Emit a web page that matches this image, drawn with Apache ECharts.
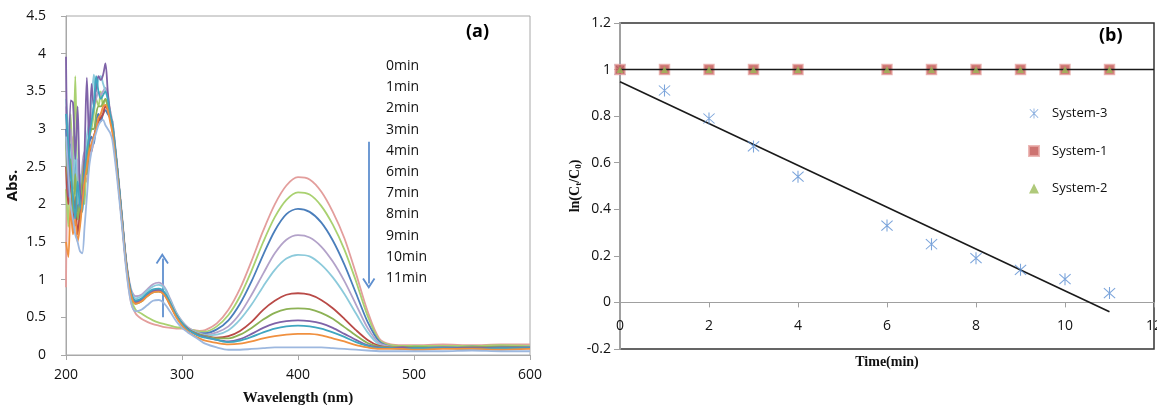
<!DOCTYPE html>
<html>
<head>
<meta charset="utf-8">
<script src="https://cdn.jsdelivr.net/npm/echarts@6/dist/echarts.min.js"></script>
<style>
  html, body { margin: 0; padding: 0; background: #fff; }
  #main { width: 1157px; height: 405px; }
</style>
</head>
<body>
<div id="main"></div>
<script>
// ---- panel (a): UV-vis spectra ----
var wavelengths = [200,202,204,206,208,210,212,214,216,218,220,222,224,226,228,230,232,234,236,238,
  240,244,248,252,256,260,265,270,275,280,285,290,295,300,305,310,315,320,330,340,350,360,370,380,390,
  400,410,420,430,440,450,460,470,480,490,500,525,550,575,600];

var abs0 = [0.9,2.6,2.2,2.9,2.3,2.0,1.8,2.1,2.4,2.3,2.6,2.8,2.9,3.0,3.1,3.2,3.25,3.3,3.35,3.25,
  3.0,2.45,1.8,1.15,0.7,0.55,0.48,0.44,0.41,0.39,0.37,0.36,0.35,0.35,0.34,0.33,0.32,0.33,0.42,0.6,0.88,1.25,1.65,2.0,2.25,
  2.36,2.33,2.17,1.9,1.55,1.08,0.58,0.22,0.14,0.13,0.13,0.14,0.13,0.14,0.14];
var abs1 = [2.2,1.7,3.2,2.5,3.7,2.1,1.7,2.4,2.0,2.8,2.9,3.0,3.2,3.4,3.3,3.5,3.3,3.4,3.3,3.2,
  3.05,2.5,1.85,1.2,0.75,0.6,0.55,0.5,0.46,0.43,0.41,0.39,0.37,0.36,0.34,0.33,0.31,0.31,0.38,0.53,0.78,1.12,1.5,1.83,2.06,
  2.16,2.13,1.98,1.73,1.4,0.98,0.52,0.2,0.13,0.12,0.12,0.12,0.12,0.13,0.12];
var abs2 = [3.0,2.4,2.8,2.2,2.7,1.9,2.3,2.0,2.6,2.4,2.8,2.9,2.8,3.1,3.2,3.1,3.2,3.25,3.2,3.15,
  3.1,2.5,1.85,1.2,0.82,0.72,0.74,0.79,0.84,0.85,0.8,0.66,0.52,0.42,0.35,0.31,0.29,0.29,0.34,0.46,0.68,0.98,1.33,1.65,1.87,
  1.94,1.9,1.76,1.52,1.2,0.82,0.44,0.18,0.11,0.1,0.1,0.1,0.11,0.1,0.1];
var abs3 = [3.3,2.7,3.0,2.4,2.2,2.6,1.9,2.5,2.7,2.6,3.0,3.2,3.3,3.4,3.5,3.45,3.5,3.55,3.45,3.25,
  3.1,2.55,1.9,1.25,0.88,0.78,0.8,0.87,0.94,0.96,0.9,0.74,0.57,0.45,0.37,0.32,0.29,0.27,0.3,0.38,0.55,0.8,1.08,1.35,1.53,
  1.59,1.56,1.44,1.24,0.98,0.67,0.36,0.16,0.11,0.1,0.1,0.1,0.1,0.11,0.1];
var abs4 = [3.4,3.0,2.6,2.2,2.9,2.0,2.4,2.2,2.5,2.9,3.1,3.3,3.72,3.5,3.65,3.7,3.6,3.5,3.4,3.2,
  3.05,2.5,1.85,1.22,0.85,0.75,0.78,0.85,0.91,0.93,0.88,0.72,0.56,0.44,0.36,0.31,0.28,0.26,0.27,0.33,0.47,0.67,0.91,1.13,1.28,
  1.33,1.31,1.2,1.03,0.81,0.55,0.3,0.14,0.1,0.1,0.11,0.1,0.1,0.1,0.11];
var abs6 = [2.5,2.0,2.3,1.7,2.1,1.6,1.9,2.2,2.4,2.5,2.8,2.7,2.9,3.0,3.1,3.15,3.2,3.3,3.25,3.15,
  3.0,2.45,1.82,1.2,0.82,0.7,0.73,0.8,0.86,0.87,0.82,0.68,0.53,0.42,0.35,0.3,0.27,0.25,0.23,0.25,0.32,0.44,0.6,0.72,0.8,
  0.82,0.8,0.73,0.62,0.48,0.33,0.2,0.12,0.1,0.1,0.1,0.09,0.1,0.1,0.09];
var abs7 = [2.9,2.2,2.6,1.9,2.4,1.8,2.0,2.3,2.6,2.4,2.9,3.0,3.0,3.2,3.3,3.3,3.35,3.4,3.3,3.2,
  3.05,2.5,1.85,1.2,0.8,0.68,0.71,0.78,0.83,0.84,0.8,0.66,0.52,0.41,0.34,0.3,0.27,0.25,0.22,0.22,0.27,0.36,0.47,0.56,0.61,
  0.62,0.61,0.56,0.48,0.37,0.26,0.16,0.11,0.1,0.1,0.11,0.1,0.1,0.11,0.1];
var abs8 = [3.96,2.1,3.38,3.35,2.6,3.3,2.2,2.0,2.7,3.68,2.8,3.6,3.3,3.55,3.7,3.65,3.72,3.87,3.5,3.2,
  3.05,2.5,1.86,1.22,0.82,0.7,0.73,0.8,0.85,0.86,0.82,0.67,0.52,0.41,0.34,0.29,0.26,0.24,0.2,0.18,0.21,0.28,0.36,0.42,0.45,
  0.46,0.45,0.42,0.36,0.28,0.2,0.13,0.1,0.09,0.1,0.09,0.1,0.09,0.1,0.1];
var abs9 = [3.2,2.8,2.4,2.1,1.8,2.3,2.0,1.9,2.4,2.7,2.9,3.1,3.3,3.7,3.5,3.4,3.45,3.5,3.4,3.2,
  3.05,2.5,1.86,1.22,0.84,0.72,0.75,0.82,0.87,0.88,0.83,0.68,0.53,0.42,0.34,0.29,0.25,0.23,0.2,0.17,0.19,0.24,0.3,0.35,0.38,
  0.39,0.38,0.35,0.3,0.24,0.17,0.12,0.09,0.09,0.08,0.09,0.09,0.08,0.09,0.09];
var abs10 = [1.5,1.3,2.0,1.6,1.8,1.5,1.7,2.0,2.3,2.5,2.7,2.8,2.9,3.0,3.15,3.2,3.3,3.32,3.25,3.1,
  2.95,2.42,1.8,1.18,0.8,0.68,0.71,0.78,0.83,0.84,0.79,0.65,0.5,0.39,0.31,0.26,0.22,0.19,0.16,0.14,0.15,0.18,0.22,0.25,0.27,
  0.28,0.28,0.26,0.22,0.18,0.13,0.1,0.08,0.08,0.08,0.07,0.08,0.08,0.07,0.08];
var abs11 = [2.9,2.4,2.0,1.8,1.6,1.5,1.38,1.35,1.7,2.1,2.5,2.7,2.85,2.95,3.05,3.1,3.12,3.05,3.0,2.95,
  2.85,2.35,1.75,1.12,0.7,0.58,0.6,0.66,0.72,0.73,0.68,0.57,0.45,0.36,0.3,0.25,0.2,0.15,0.1,0.07,0.07,0.08,0.09,0.1,0.1,
  0.1,0.1,0.1,0.09,0.08,0.07,0.06,0.05,0.05,0.05,0.05,0.05,0.06,0.05,0.05];

var timeLabels = ['0min','1min','2min','3min','4min','6min','7min','8min','9min','10min','11min'];
var spectra = [abs0, abs1, abs2, abs3, abs4, abs6, abs7, abs8, abs9, abs10, abs11];
var spectraColors = ['#E39E9C','#A9D170','#4A7EBB','#B3A2C9','#8CCADB','#B94A47','#8DB255','#7F63A8','#3FA6C0','#F0903F','#9DB8DF'];

// arrows (annotation, data units of panel a)
var arrowUpX = [283, 283], arrowUpY = [0.5, 1.28];
var arrowDownX = [461, 461], arrowDownY = [2.83, 0.95];

// ---- panel (b): kinetics ----
var timeMin = [0, 1, 2, 3, 4, 6, 7, 8, 9, 10, 11];
var system3 = [1.0, 0.91, 0.79, 0.67, 0.54, 0.33, 0.25, 0.19, 0.14, 0.10, 0.04];
var system1 = [1, 1, 1, 1, 1, 1, 1, 1, 1, 1, 1];
var system2 = [1, 1, 1, 1, 1, 1, 1, 1, 1, 1, 1];
var fit3X = [0, 11], fit3Y = [0.948, -0.04];
var fit1X = [0, 12], fit1Y = [1, 1];

function pairs(xs, ys) { return xs.map(function (x, i) { return [x, ys[i]]; }); }

var asterisk = 'path://M9.2 0 L10.8 0 L10.8 20 L9.2 20 Z M1.1 2.2 L2.2 1.1 L18.9 17.8 L17.8 18.9 Z M17.8 1.1 L18.9 2.2 L2.2 18.9 L1.1 17.8 Z';
var chevron = 'path://M0 9 L6 0 L12 9 L10.6 10 L6 3.2 L1.4 10 Z';

var chart = echarts.init(document.getElementById('main'));

var series = [];
spectra.forEach(function (arr, i) {
  series.push({
    name: timeLabels[i], type: 'line', xAxisIndex: 0, yAxisIndex: 0,
    data: pairs(wavelengths, arr), showSymbol: false, smooth: 0.3,
    lineStyle: { width: 1.8, color: spectraColors[i] }, itemStyle: { color: spectraColors[i] },
    z: 2 + i, silent: true
  });
});
[[arrowUpX, arrowUpY], [arrowDownX, arrowDownY]].forEach(function (a) {
  series.push({
    type: 'line', xAxisIndex: 0, yAxisIndex: 0, silent: true, z: 20,
    data: [], markLine: {
      silent: true, symbol: ['none', chevron], symbolSize: [13, 11],
      lineStyle: { color: '#5F8FCF', width: 1.8, type: 'solid' }, label: { show: false },
      data: [[{ coord: [a[0][0], a[1][0]] }, { coord: [a[0][1], a[1][1]] }]]
    }
  });
});

series.push({
  name: 'fit3', type: 'line', xAxisIndex: 1, yAxisIndex: 1, data: pairs(fit3X, fit3Y),
  showSymbol: false, lineStyle: { color: '#1a1a1a', width: 1.6 }, z: 3, silent: true
});
series.push({
  name: 'System-3', type: 'scatter', xAxisIndex: 1, yAxisIndex: 1, data: pairs(timeMin, system3),
  symbol: asterisk, symbolSize: 12, itemStyle: { color: '#5B8ED2' }, z: 4
});
series.push({
  name: 'System-1', type: 'scatter', xAxisIndex: 1, yAxisIndex: 1, data: pairs(timeMin, system1),
  symbol: 'rect', symbolSize: 10, itemStyle: { color: '#C0504D', borderColor: '#E7A7A5', borderWidth: 1.5 }, z: 5
});
series.push({
  name: 'fit1', type: 'line', xAxisIndex: 1, yAxisIndex: 1, data: pairs(fit1X, fit1Y),
  showSymbol: false, lineStyle: { color: '#1a1a1a', width: 1.6 }, z: 6, silent: true
});
series.push({
  name: 'System-2', type: 'scatter', xAxisIndex: 1, yAxisIndex: 1, data: pairs(timeMin, system2),
  symbol: 'triangle', symbolSize: 7, itemStyle: { color: '#9BBB59' }, z: 7
});

var labelFont = { fontFamily: 'Open Sans', fontSize: 14, color: '#111' };

var graphics = timeLabels.map(function (t, i) {
  return { type: 'text', left: 386, top: 59 + i * 21.2,
    style: { text: t, font: '14px "Open Sans"', fill: '#111' } };
});
graphics.push({ type: 'text', left: 466, top: 23, style: { text: '(a)', font: 'bold 18px "Open Sans"', fill: '#000' } });
graphics.push({ type: 'text', left: 1099, top: 27, style: { text: '(b)', font: 'bold 18px "Open Sans"', fill: '#000' } });

chart.setOption({
  animation: false,
  backgroundColor: '#fff',
  graphic: graphics,
  grid: [
    { left: 66, right: 627, top: 16, bottom: 50, show: true, borderColor: '#A8A8A8', borderWidth: 1,
      containLabel: false, outerBoundsMode: 'none' },
    { left: 620, right: 3, top: 23, bottom: 56, show: true, borderColor: '#333', borderWidth: 1.5,
      containLabel: false, outerBoundsMode: 'none' }
  ],
  legend: {
    data: ['System-3', 'System-1', 'System-2'], orient: 'vertical', left: 1023, top: 102,
    itemGap: 24.5, itemWidth: 10, itemHeight: 10, selectedMode: false,
    textStyle: { fontFamily: 'Open Sans', fontSize: 13, color: '#111', padding: [0, 0, 0, 8] }
  },
  xAxis: [
    { type: 'value', gridIndex: 0, min: 200, max: 600, interval: 100,
      name: 'Wavelength (nm)', nameLocation: 'middle', nameGap: 36,
      nameTextStyle: { fontFamily: 'Liberation Serif', fontWeight: 'bold', fontSize: 15, color: '#111' },
      axisLine: { lineStyle: { color: '#A8A8A8' } }, axisTick: { lineStyle: { color: '#A8A8A8' }, length: 5 },
      axisLabel: Object.assign({ margin: 13 }, labelFont), splitLine: { show: false } },
    // horizontal axis crosses at y = 0: shift it up from the bottom edge (-0.2) by offset
    { type: 'value', gridIndex: 1, min: 0, max: 12, interval: 2, offset: -46.6,
      name: 'Time(min)', nameLocation: 'middle', nameGap: 53,
      nameTextStyle: { fontFamily: 'Liberation Serif', fontWeight: 'bold', fontSize: 14, color: '#111' },
      axisLine: { onZero: false, lineStyle: { color: '#A0A0A0' } }, axisTick: { lineStyle: { color: '#A0A0A0' }, length: 5 },
      axisLabel: Object.assign({ margin: 17 }, labelFont), splitLine: { show: false } }
  ],
  yAxis: [
    { type: 'value', gridIndex: 0, min: 0, max: 4.5, interval: 0.5,
      name: 'Abs.', nameLocation: 'middle', nameGap: 46, nameRotate: 90,
      nameTextStyle: { fontFamily: 'Open Sans', fontWeight: 'bold', fontSize: 15, color: '#111' },
      axisLine: { show: true, lineStyle: { color: '#A8A8A8' } }, axisTick: { show: true, lineStyle: { color: '#A8A8A8' }, length: 5 },
      axisLabel: Object.assign({ margin: 20 }, labelFont), splitLine: { show: false } },
    { type: 'value', gridIndex: 1, min: -0.2, max: 1.2, interval: 0.2,
      name: 'ln(C{s|t}/C{s|0})', nameLocation: 'middle', nameGap: 37, nameRotate: 90,
      nameTextStyle: { fontFamily: 'Liberation Serif', fontWeight: 'bold', fontSize: 14, color: '#111',
        rich: { s: { fontFamily: 'Liberation Serif', fontWeight: 'bold', fontSize: 9, verticalAlign: 'bottom', padding: [6, 0, 0, 0] } } },
      axisLine: { show: true, onZero: false, lineStyle: { color: '#A0A0A0', width: 2 } }, axisTick: { show: true, lineStyle: { color: '#A0A0A0' }, length: 6 },
      axisLabel: Object.assign({ margin: 9, formatter: function (v) { return String(Math.round(v * 10) / 10); } }, labelFont),
      splitLine: { show: false } }
  ],
  series: series
});
</script>
</body>
</html>
